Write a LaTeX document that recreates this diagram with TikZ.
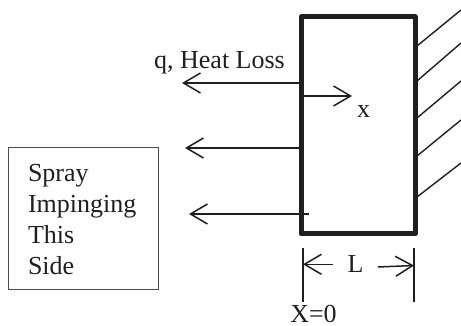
\documentclass[tikz,border=0pt]{standalone}
\usepackage{fontspec}
\setmainfont{Liberation Serif}
\usetikzlibrary{arrows.meta}
\tikzset{
  ink/.style={draw=black!88},
  wallbox/.style={ink,line width=5pt,line join=round,minimum width=114pt,minimum height=217pt,inner sep=0pt,outer sep=0pt},
  hatchline/.style={ink,line width=1.4pt},
  arrowline/.style={ink,line width=1.5pt,-{Straight Barb[length=17pt,width=20pt,line width=1.5pt]}},
  dimbar/.style={ink,line width=1.4pt},
  sprayframe/.style={draw=black!70,line width=1pt,minimum width=150pt,minimum height=142pt,inner sep=0pt},
  lab/.style={inner sep=0pt,outer sep=0pt,font=\fontsize{26}{30}\selectfont,text=black!88,anchor=base}
}
\begin{document}
\begin{tikzpicture}[x=1pt,y=1pt]
\useasboundingbox (0,0) rectangle (461,326);
\node[wallbox] (wall) at (358,200.5) {};
\node[sprayframe] (spray) at (83,107) {};
\foreach \n/\ya/\yb in {a/280/316,b/245/283,c/208/245,d/170/206,e/129/163}{
  \coordinate (h\n s) at (417,\ya);
  \coordinate (h\n e) at (461,\yb);
  \draw[hatchline] (h\n s) -- (h\n e);
}
\coordinate (q1s) at (301,243);
\coordinate (q1e) at (182,243);
\coordinate (q2s) at (304,178);
\coordinate (q2e) at (185,178);
\coordinate (q3s) at (309,112);
\coordinate (q3e) at (189,112);
\coordinate (xs) at (301,230);
\coordinate (xe) at (352,230);
\draw[arrowline] (q1s) -- (q1e);
\draw[arrowline] (q2s) -- (q2e);
\draw[arrowline] (q3s) -- (q3e);
\draw[arrowline] (xs) -- (xe);
\node[lab] (qlabel) at (219.5,257) {q, Heat Loss};
\node[lab] (xlabel) at (363.5,208) {x};
\node[lab,anchor=base west] (s1) at (28,144) {Spray};
\node[lab,anchor=base west] (s2) at (28,113) {Impinging};
\node[lab,anchor=base west] (s3) at (28,82) {This};
\node[lab,anchor=base west] (s4) at (28,51) {Side};
\coordinate (d1t) at (303,78);
\coordinate (d1b) at (303,24);
\coordinate (d2t) at (414,78);
\coordinate (d2b) at (414,24);
\draw[dimbar] (d1t) -- (d1b);
\draw[dimbar] (d2t) -- (d2b);
\coordinate (l1s) at (333,61.7);
\coordinate (l1e) at (303,61.7);
\coordinate (l2s) at (378,59);
\coordinate (l2e) at (414,60.5);
\draw[arrowline] (l1s) -- (l1e);
\draw[arrowline] (l2s) -- (l2e);
\node[lab] (Llabel) at (355.5,53) {L};
\node[lab] (zero) at (313.5,3.5) {X=0};
\end{tikzpicture}
\end{document}
